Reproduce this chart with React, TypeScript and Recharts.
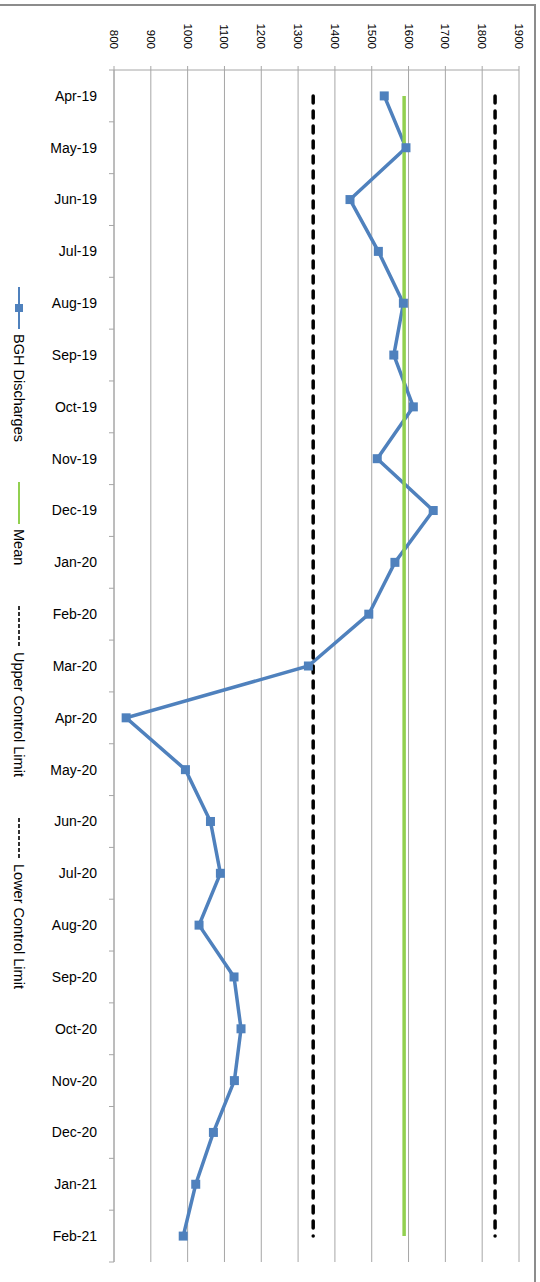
import { LineChart, Line, XAxis, YAxis, CartesianGrid, Legend } from "recharts";

const months = [
  "Apr-19", "May-19", "Jun-19", "Jul-19", "Aug-19", "Sep-19", "Oct-19", "Nov-19",
  "Dec-19", "Jan-20", "Feb-20", "Mar-20", "Apr-20", "May-20", "Jun-20", "Jul-20",
  "Aug-20", "Sep-20", "Oct-20", "Nov-20", "Dec-20", "Jan-21", "Feb-21",
];

const discharges = [
  1534, 1593, 1441, 1518, 1586, 1560, 1613, 1515, 1667, 1563, 1492, 1328,
  833, 994, 1062, 1089, 1031, 1126, 1145, 1127, 1070, 1022, 988,
];

const MEAN = 1588;
const UPPER_LIMIT = 1835;
const LOWER_LIMIT = 1341;

const valueTicks = [800, 900, 1000, 1100, 1200, 1300, 1400, 1500, 1600, 1700, 1800, 1900];

// legend order as in the source chart
const seriesOrder = ["discharges", "mean", "ucl", "lcl"];

const data = months.map((month, i) => ({
  month,
  discharges: discharges[i],
  mean: MEAN,
  ucl: UPPER_LIMIT,
  lcl: LOWER_LIMIT,
}));

const W = 540;
const H = 1282;
const M = { top: 20, right: 21, bottom: 20, left: 0 };
const X_AXIS_H = 50;
const Y_AXIS_W = 114;
const PLOT_H = H - M.top - M.bottom - X_AXIS_H;
const BAND = PLOT_H / months.length;

const FONT = "'Liberation Sans', Arial, sans-serif";
const BLUE = "#4F81BD";
const GREEN = "#92D050";
const GRID = "#A6A6A6";

const ValueTick = (props: any) => {
  const { x, y, payload } = props;
  return (
    <text
      x={x}
      y={y}
      transform={`rotate(90, ${x}, ${y})`}
      textAnchor="end"
      dy="0.35em"
      fontSize={11.5}
      fontFamily={FONT}
      fill="#000"
    >
      {payload.value}
    </text>
  );
};

const MonthTick = (props: any) => {
  const { y, payload, index } = props;
  return (
    <g>
      <text
        x={Y_AXIS_W - 17}
        y={y}
        textAnchor="end"
        dy="0.35em"
        fontSize={14}
        fontFamily={FONT}
        fill="#000"
      >
        {payload.value}
      </text>
      {index === 0 && (
        <line x1={Y_AXIS_W - 5} x2={Y_AXIS_W} y1={y - BAND / 2} y2={y - BAND / 2} stroke={GRID} />
      )}
      <line x1={Y_AXIS_W - 5} x2={Y_AXIS_W} y1={y + BAND / 2} y2={y + BAND / 2} stroke={GRID} />
    </g>
  );
};

const SquareDot = (props: any) => {
  const { cx, cy, index } = props;
  if (cx == null || cy == null) return null;
  return <rect key={index} x={cx - 4.5} y={cy - 4.5} width={9} height={9} fill={BLUE} />;
};

const legendIcon = (key: string) => {
  if (key === "discharges") {
    return (
      <svg width={10} height={42}>
        <line x1={5} x2={5} y1={0} y2={42} stroke={BLUE} strokeWidth={2} />
        <rect x={1} y={17} width={8} height={8} fill={BLUE} />
      </svg>
    );
  }
  if (key === "mean") {
    return (
      <svg width={10} height={42}>
        <line x1={5} x2={5} y1={0} y2={42} stroke={GREEN} strokeWidth={2} />
      </svg>
    );
  }
  return (
    <svg width={10} height={42}>
      <line x1={5} x2={5} y1={1} y2={42} stroke="#000" strokeWidth={1.6} strokeDasharray="4 2" />
    </svg>
  );
};

const renderLegend = (props: any) => {
  const items = [...(props.payload || [])].sort(
    (a: any, b: any) => seriesOrder.indexOf(a.dataKey) - seriesOrder.indexOf(b.dataKey)
  );
  return (
    <div style={{ display: "flex", flexDirection: "column", alignItems: "center", gap: 40 }}>
      {items.map((item: any) => (
        <div
          key={item.dataKey}
          style={{ display: "flex", flexDirection: "column", alignItems: "center", gap: 5 }}
        >
          {legendIcon(item.dataKey)}
          <span
            style={{
              writingMode: "vertical-rl",
              fontSize: 14.5,
              fontFamily: FONT,
              color: "#000",
              lineHeight: "16px",
              whiteSpace: "nowrap",
            }}
          >
            {item.value}
          </span>
        </div>
      ))}
    </div>
  );
};

export default function App() {
  return (
    <div
      style={{
        position: "absolute",
        left: 0,
        top: 0,
        width: W,
        height: H,
        overflow: "hidden",
        background: "#fff",
      }}
    >
      <div
        style={{
          position: "absolute",
          left: -10,
          top: 4,
          width: 546,
          height: 1300,
          border: "2px solid #8C8C8C",
          boxSizing: "border-box",
        }}
      />
      <div style={{ position: "absolute", left: 0, top: 0 }}>
        <LineChart width={W} height={H} data={data} layout="vertical" margin={M}>
          <CartesianGrid horizontal={false} stroke={GRID} />
          <XAxis
            type="number"
            orientation="top"
            domain={[800, 1900]}
            ticks={valueTicks}
            height={X_AXIS_H}
            tick={<ValueTick />}
            tickSize={4}
            tickMargin={17}
            axisLine={{ stroke: GRID }}
            tickLine={{ stroke: GRID }}
            interval={0}
          />
          <YAxis
            type="category"
            dataKey="month"
            scale="band"
            width={Y_AXIS_W}
            tick={<MonthTick />}
            tickLine={false}
            axisLine={{ stroke: GRID }}
            interval={0}
          />
          <Legend
            layout="horizontal"
            verticalAlign="middle"
            align="center"
            content={renderLegend}
            wrapperStyle={{ left: 4, top: 287, width: 30 }}
          />
          <Line
            dataKey="discharges"
            name="BGH Discharges"
            stroke={BLUE}
            strokeWidth={3.5}
            dot={<SquareDot />}
            activeDot={false}
            isAnimationActive={false}
          />
          <Line
            dataKey="mean"
            name="Mean"
            stroke={GREEN}
            strokeWidth={3.5}
            dot={false}
            activeDot={false}
            isAnimationActive={false}
          />
          <Line
            dataKey="ucl"
            name="Upper Control Limit"
            stroke="#000"
            strokeWidth={3.5}
            strokeDasharray="7 8"
            strokeLinecap="round"
            dot={false}
            activeDot={false}
            isAnimationActive={false}
          />
          <Line
            dataKey="lcl"
            name="Lower Control Limit"
            stroke="#000"
            strokeWidth={3.5}
            strokeDasharray="7 8"
            strokeLinecap="round"
            dot={false}
            activeDot={false}
            isAnimationActive={false}
          />
        </LineChart>
      </div>
    </div>
  );
}
